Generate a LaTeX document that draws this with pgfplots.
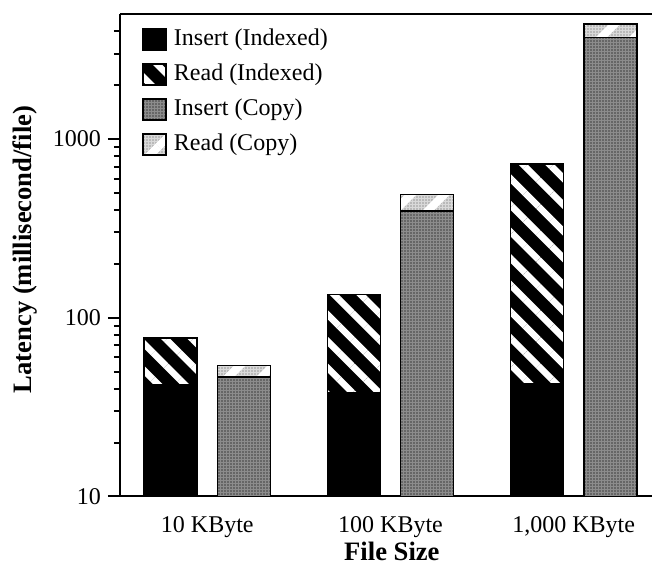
\documentclass[border=0pt]{standalone}
\usepackage{fontspec}
\setmainfont{Liberation Serif}
\usepackage{pgfplots}
\pgfplotsset{compat=1.18}
\usetikzlibrary{patterns.meta}

\tikzset{
  insidx/.style={draw=black, line width=0.8pt, fill=black},
  readidx/.style={draw=black, line width=0.8pt,
    preaction={fill=black},
    preaction={pattern={Lines[angle=-45,distance=9.4pt,line width=3.3pt]}, pattern color=white}},
  inscopy/.style={draw=black, line width=0.8pt,
    preaction={fill=black!45},
    preaction={pattern={Dots[distance=1.5pt,radius=0.45pt]}, pattern color=black!75}},
  readcopy/.style={draw=black, line width=0.8pt,
    preaction={fill=black!15},
    preaction={pattern={Dots[distance=1.5pt,radius=0.45pt]}, pattern color=black!40},
    preaction={pattern={Lines[angle=45,distance=11.8pt,line width=4pt]}, pattern color=white}},
}

\begin{document}
\begin{tikzpicture}
\begin{axis}[
  name=ax,
  scale only axis, width=266pt, height=241.25pt,
  ymode=log, ymin=10, ymax=5000, log origin y=infty,
  xmin=-0.4765, xmax=2.4274,
  axis x line=box, axis y line=left,
  axis line style={-, line width=1pt, black},
  xtick={0,1,2}, xticklabels={10 KByte,100 KByte,{1,000 KByte}},
  xtick style={draw=none},
  xticklabel style={yshift=-0.5pt},
  ytick={10,100,1000}, yticklabels={10,100,1000},
  minor ytick={20,30,40,50,60,70,80,90,200,300,400,500,600,700,800,900,2000,3000,4000},
  tick align=outside,
  major tick length=6pt, minor tick length=3pt,
  every tick/.style={line width=1pt, black},
  tick label style={font=\fontsize{12}{14.4}\selectfont},
  label style={font=\fontsize{13.3}{16}\selectfont\bfseries},
  xlabel={File Size},
  ylabel={Latency (millisecond/file)},
  xlabel style={at={(axis description cs:0.511,-0.113)}, anchor=center},
  ylabel style={at={(axis description cs:-0.1786,0.512)}, anchor=center},
  legend style={at={(axis description cs:0.03,0.985)}, anchor=north west,
    draw=none, fill=none, font=\fontsize{12}{14.4}\selectfont,
    row sep=3.5pt, column sep=2.5pt,
    nodes={inner sep=1pt, text height=9pt, text depth=3pt}},
  legend cell align=left,
]
\addplot[ybar, bar width=0.289, bar shift=-0.2, readidx, forget plot] coordinates {(0,77) (1,135) (2,726)};
\addplot[ybar, bar width=0.289, bar shift=-0.2, insidx, forget plot] coordinates {(0,42) (1,38) (2,42.5)};
\addplot[ybar, bar width=0.289, bar shift=0.2, readcopy, forget plot] coordinates {(0,54) (1,488) (2,4400)};
\addplot[ybar, bar width=0.289, bar shift=0.2, inscopy, forget plot] coordinates {(0,46.5) (1,394) (2,3700)};

\addlegendimage{legend image code/.code={\draw[insidx] (0pt,-5.25pt) rectangle (11.5pt,5.25pt);}}
\addlegendentry{Insert (Indexed)}
\addlegendimage{legend image code/.code={\draw[readidx] (0pt,-5.25pt) rectangle (11.5pt,5.25pt);}}
\addlegendentry{Read (Indexed)}
\addlegendimage{legend image code/.code={\draw[inscopy] (0pt,-5.25pt) rectangle (11.5pt,5.25pt);}}
\addlegendentry{Insert (Copy)}
\addlegendimage{legend image code/.code={\draw[readcopy] (0pt,-5.25pt) rectangle (11.5pt,5.25pt);}}
\addlegendentry{Read (Copy)}
\end{axis}
\pgfresetboundingbox
\path[use as bounding box] ([shift={(-60pt,-37.75pt)}]ax.south west) rectangle ([shift={(0pt,7pt)}]ax.north east);
\end{tikzpicture}
\end{document}
